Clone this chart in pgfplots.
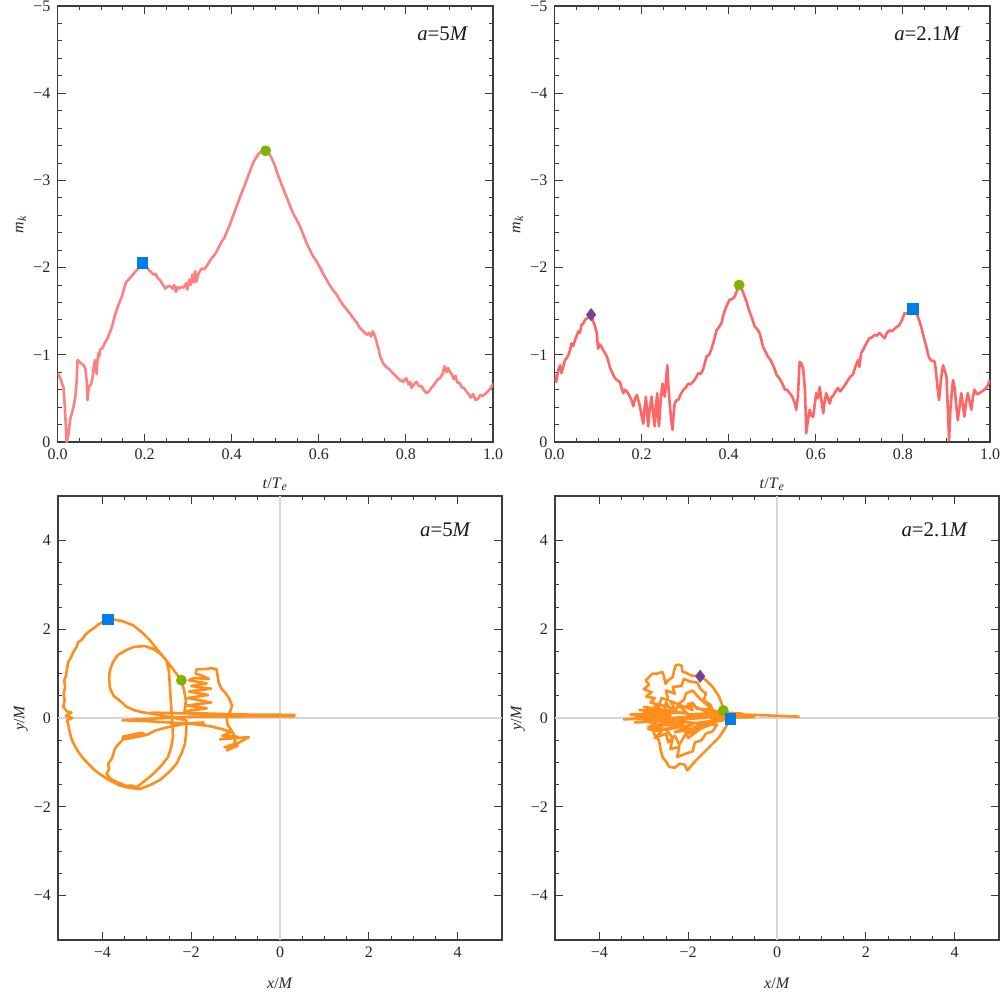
\documentclass[border=0pt]{standalone}
\usepackage{fontspec}
\setmainfont{Liberation Serif}
\usepackage{pgfplots}
\pgfplotsset{compat=1.18}

\definecolor{curveA}{RGB}{255,128,128}
\definecolor{curveB}{RGB}{255,102,102}
\definecolor{orbit}{RGB}{255,142,28}
\definecolor{mkblue}{RGB}{0,126,232}
\definecolor{mkgreen}{RGB}{128,180,0}
\definecolor{mkpurple}{RGB}{118,66,150}
\definecolor{frame}{RGB}{60,60,60}

\tikzset{note/.style={anchor=east, font=\fontsize{10.4}{12}\selectfont, text=black!90}}

\pgfplotsset{
  panel/.style={
    scale only axis, clip=true,
    axis line style={frame, line width=0.55pt},
    tick style={frame, line width=0.45pt},
    tick align=inside, tick pos=both,
    major tick length=4pt, minor tick length=2.2pt,
    ticklabel style={font=\fontsize{8}{9}\selectfont, text=black!85},
    every axis x label/.style={at={(axis description cs:0.5,-0.098)}, anchor=center,
      font=\fontsize{8}{9}\selectfont, text=black!85},
    every axis y label/.style={at={(axis description cs:-0.084,0.5)}, anchor=center, rotate=90,
      font=\fontsize{8}{9}\selectfont, text=black!85},
  },
  toppanel/.style={panel,
    width=217.75pt, height=218pt,
    xmin=0, xmax=1, ymin=-5, ymax=0, y dir=reverse,
    xtick={0,0.2,0.4,0.6,0.8,1}, xticklabels={0.0,0.2,0.4,0.6,0.8,1.0},
    minor x tick num=3,
    ytick={-5,-4,-3,-2,-1,0}, yticklabels={−5,−4,−3,−2,−1,0},
    minor y tick num=4,
    xlabel={\textit{t}/\textit{T}\textsubscript{\textit{e}}},
    ylabel={\textit{m}\textsubscript{\textit{k}}},
  },
  botpanel/.style={panel,
    width=222pt, height=222pt,
    xmin=-5, xmax=5, ymin=-5, ymax=5,
    xtick={-4,-2,0,2,4}, xticklabels={−4,−2,0,2,4},
    ytick={-4,-2,0,2,4}, yticklabels={−4,−2,0,2,4},
    minor x tick num=3, minor y tick num=3,
    extra x ticks={0}, extra y ticks={0},
    extra tick style={grid=major, major grid style={black!16, line width=0.8pt},
      major tick length=0pt, xticklabel={}, yticklabel={}},
    xlabel={\textit{x}/\textit{M}},
    ylabel={\textit{y}/\textit{M}},
  },
}

\begin{document}
\begin{tikzpicture}
\useasboundingbox (0,0) rectangle (500.5pt,496.5pt);

% ---- top left: a = 5M ----
\begin{axis}[toppanel, at={(28.75pt,275.5pt)}, anchor=south west]
\addplot[curveA, line width=1.3pt, line join=round] coordinates {
(0.000,-0.79)(0.006,-0.74)(0.010,-0.68)(0.014,-0.62)(0.018,-0.30)(0.021,0.00)(0.025,-0.08)(0.029,-0.26)(0.033,-0.33)(0.037,-0.41)(0.041,-0.52)(0.044,-0.70)(0.046,-0.94)(0.050,-0.92)(0.055,-0.90)(0.060,-0.88)(0.064,-0.84)(0.067,-0.70)(0.069,-0.48)(0.071,-0.60)(0.073,-0.64)(0.077,-0.66)(0.080,-0.72)(0.083,-0.85)(0.086,-0.94)(0.088,-0.82)(0.090,-0.78)(0.092,-0.95)(0.094,-1.02)(0.096,-0.98)(0.098,-1.06)(0.104,-1.08)(0.109,-1.14)(0.113,-1.17)(0.119,-1.24)(0.125,-1.32)(0.130,-1.42)(0.136,-1.52)(0.142,-1.60)(0.148,-1.67)(0.153,-1.76)(0.157,-1.83)(0.163,-1.86)(0.170,-1.90)(0.176,-1.94)(0.182,-1.97)(0.188,-2.00)(0.195,-2.05)(0.200,-2.03)(0.205,-2.01)(0.210,-1.97)(0.215,-1.95)(0.220,-1.92)(0.225,-1.93)(0.230,-1.88)(0.235,-1.86)(0.240,-1.82)(0.247,-1.76)(0.252,-1.78)(0.258,-1.79)(0.264,-1.76)(0.268,-1.80)(0.272,-1.72)(0.276,-1.78)(0.280,-1.76)(0.285,-1.78)(0.290,-1.77)(0.295,-1.82)(0.298,-1.75)(0.302,-1.86)(0.306,-1.80)(0.310,-1.92)(0.313,-1.83)(0.316,-1.96)(0.319,-1.84)(0.323,-1.92)(0.327,-1.96)(0.331,-1.99)(0.337,-1.98)(0.343,-2.02)(0.349,-2.07)(0.354,-2.11)(0.360,-2.14)(0.366,-2.19)(0.371,-2.24)(0.377,-2.30)(0.383,-2.34)(0.388,-2.40)(0.394,-2.47)(0.400,-2.55)(0.406,-2.63)(0.411,-2.70)(0.417,-2.78)(0.423,-2.86)(0.429,-2.93)(0.434,-3.00)(0.440,-3.08)(0.446,-3.16)(0.451,-3.22)(0.457,-3.27)(0.463,-3.31)(0.468,-3.33)(0.473,-3.34)(0.478,-3.34)(0.483,-3.32)(0.488,-3.29)(0.494,-3.23)(0.500,-3.16)(0.505,-3.08)(0.511,-3.00)(0.518,-2.91)(0.526,-2.81)(0.533,-2.72)(0.541,-2.62)(0.549,-2.55)(0.557,-2.47)(0.565,-2.37)(0.572,-2.28)(0.580,-2.20)(0.587,-2.13)(0.595,-2.07)(0.602,-2.01)(0.610,-1.93)(0.618,-1.86)(0.625,-1.80)(0.633,-1.74)(0.641,-1.69)(0.648,-1.63)(0.656,-1.57)(0.664,-1.52)(0.672,-1.47)(0.679,-1.42)(0.687,-1.37)(0.694,-1.31)(0.702,-1.27)(0.710,-1.23)(0.715,-1.25)(0.720,-1.21)(0.724,-1.27)(0.729,-1.21)(0.733,-1.14)(0.737,-1.07)(0.741,-0.98)(0.748,-0.90)(0.755,-0.86)(0.763,-0.83)(0.770,-0.79)(0.778,-0.75)(0.786,-0.71)(0.794,-0.69)(0.798,-0.72)(0.801,-0.73)(0.806,-0.66)(0.810,-0.69)(0.813,-0.62)(0.818,-0.66)(0.824,-0.69)(0.830,-0.64)(0.836,-0.64)(0.842,-0.59)(0.847,-0.56)(0.853,-0.58)(0.858,-0.62)(0.862,-0.64)(0.868,-0.68)(0.873,-0.72)(0.878,-0.73)(0.884,-0.78)(0.889,-0.87)(0.893,-0.80)(0.897,-0.85)(0.900,-0.81)(0.905,-0.78)(0.910,-0.72)(0.914,-0.76)(0.918,-0.68)(0.923,-0.68)(0.928,-0.63)(0.933,-0.62)(0.939,-0.58)(0.944,-0.55)(0.949,-0.51)(0.954,-0.55)(0.960,-0.48)(0.966,-0.50)(0.971,-0.54)(0.977,-0.53)(0.982,-0.55)(0.988,-0.58)(0.994,-0.61)(1.000,-0.67)};
\addplot[only marks, mark=square*, mark size=2.7pt, mkblue] coordinates {(0.195,-2.05)};
\addplot[only marks, mark=*, mark size=2.5pt, mkgreen] coordinates {(0.478,-3.34)};
\node[note] at (axis description cs:0.959,0.936) {\textit{a}=5\textit{M}};
\end{axis}

% ---- top right: a = 2.1M ----
\begin{axis}[toppanel, at={(277.25pt,275.5pt)}, anchor=south west]
\addplot[curveB, line width=1.3pt, line join=round] coordinates {
(0.000,-0.77)(0.004,-0.69)(0.009,-0.83)(0.013,-0.88)(0.016,-0.79)(0.020,-0.86)(0.024,-0.94)(0.028,-0.96)(0.032,-1.00)(0.036,-1.06)(0.039,-1.13)(0.043,-1.10)(0.047,-1.17)(0.051,-1.22)(0.055,-1.27)(0.058,-1.25)(0.062,-1.34)(0.066,-1.36)(0.070,-1.40)(0.075,-1.42)(0.080,-1.44)(0.084,-1.45)(0.087,-1.42)(0.089,-1.38)(0.093,-1.33)(0.097,-1.25)(0.100,-1.07)(0.104,-1.12)(0.108,-1.09)(0.112,-1.05)(0.116,-1.02)(0.120,-0.98)(0.123,-0.94)(0.127,-0.86)(0.131,-0.81)(0.135,-0.77)(0.139,-0.73)(0.144,-0.71)(0.150,-0.69)(0.154,-0.62)(0.158,-0.56)(0.162,-0.60)(0.166,-0.58)(0.170,-0.55)(0.173,-0.52)(0.177,-0.48)(0.181,-0.41)(0.185,-0.50)(0.189,-0.54)(0.193,-0.47)(0.196,-0.41)(0.200,-0.30)(0.204,-0.21)(0.207,-0.40)(0.210,-0.52)(0.213,-0.30)(0.215,-0.18)(0.219,-0.40)(0.223,-0.52)(0.227,-0.30)(0.230,-0.18)(0.233,-0.42)(0.236,-0.56)(0.238,-0.30)(0.240,-0.18)(0.244,-0.50)(0.248,-0.67)(0.251,-0.55)(0.253,-0.52)(0.256,-0.70)(0.259,-0.88)(0.262,-0.60)(0.265,-0.41)(0.268,-0.25)(0.271,-0.14)(0.274,-0.35)(0.276,-0.44)(0.280,-0.48)(0.284,-0.48)(0.290,-0.55)(0.296,-0.60)(0.301,-0.62)(0.307,-0.67)(0.312,-0.66)(0.318,-0.69)(0.324,-0.73)(0.330,-0.79)(0.336,-0.78)(0.341,-0.83)(0.345,-0.90)(0.349,-0.98)(0.355,-1.00)(0.360,-1.06)(0.366,-1.16)(0.372,-1.28)(0.378,-1.32)(0.383,-1.36)(0.387,-1.44)(0.391,-1.51)(0.397,-1.58)(0.402,-1.63)(0.408,-1.64)(0.414,-1.67)(0.419,-1.74)(0.424,-1.78)(0.429,-1.76)(0.433,-1.72)(0.437,-1.66)(0.441,-1.61)(0.446,-1.52)(0.452,-1.44)(0.456,-1.38)(0.460,-1.32)(0.465,-1.30)(0.471,-1.25)(0.475,-1.17)(0.479,-1.09)(0.484,-1.04)(0.490,-0.98)(0.496,-0.94)(0.502,-0.88)(0.506,-0.83)(0.510,-0.77)(0.515,-0.74)(0.521,-0.69)(0.525,-0.65)(0.529,-0.60)(0.534,-0.60)(0.540,-0.56)(0.546,-0.52)(0.552,-0.44)(0.555,-0.37)(0.559,-0.52)(0.561,-0.75)(0.563,-0.92)(0.567,-0.90)(0.571,-0.84)(0.573,-0.72)(0.575,-0.60)(0.577,-0.30)(0.578,-0.10)(0.582,-0.25)(0.586,-0.37)(0.590,-0.30)(0.594,-0.29)(0.598,-0.45)(0.601,-0.56)(0.605,-0.50)(0.609,-0.63)(0.613,-0.48)(0.617,-0.33)(0.620,-0.45)(0.624,-0.56)(0.628,-0.50)(0.632,-0.44)(0.636,-0.52)(0.639,-0.52)(0.645,-0.58)(0.651,-0.62)(0.656,-0.58)(0.662,-0.62)(0.668,-0.66)(0.674,-0.71)(0.679,-0.75)(0.685,-0.77)(0.690,-0.85)(0.697,-0.94)(0.700,-0.86)(0.704,-1.02)(0.708,-1.05)(0.712,-1.09)(0.718,-1.15)(0.723,-1.19)(0.729,-1.20)(0.735,-1.23)(0.740,-1.22)(0.746,-1.25)(0.752,-1.22)(0.758,-1.19)(0.763,-1.25)(0.769,-1.28)(0.775,-1.27)(0.781,-1.30)(0.786,-1.32)(0.792,-1.34)(0.798,-1.40)(0.804,-1.48)(0.810,-1.47)(0.815,-1.49)(0.820,-1.52)(0.823,-1.53)(0.827,-1.51)(0.831,-1.48)(0.837,-1.40)(0.842,-1.32)(0.848,-1.20)(0.854,-1.09)(0.858,-1.00)(0.861,-0.96)(0.866,-0.93)(0.870,-0.93)(0.873,-0.92)(0.875,-0.85)(0.877,-0.75)(0.880,-0.60)(0.883,-0.48)(0.887,-0.70)(0.892,-0.88)(0.896,-0.82)(0.900,-0.75)(0.903,-0.40)(0.906,-0.02)(0.909,-0.37)(0.912,-0.55)(0.915,-0.71)(0.919,-0.62)(0.922,-0.44)(0.926,-0.25)(0.930,-0.40)(0.934,-0.56)(0.937,-0.45)(0.941,-0.29)(0.945,-0.45)(0.949,-0.56)(0.953,-0.47)(0.957,-0.37)(0.961,-0.52)(0.964,-0.60)(0.970,-0.55)(0.976,-0.56)(0.981,-0.58)(0.987,-0.60)(0.993,-0.63)(1.000,-0.71)};
\addplot[only marks, mark=diamond*, mark size=3pt, mkpurple] coordinates {(0.084,-1.46)};
\addplot[only marks, mark=*, mark size=2.5pt, mkgreen] coordinates {(0.424,-1.80)};
\addplot[only marks, mark=square*, mark size=2.7pt, mkblue] coordinates {(0.823,-1.53)};
\node[note] at (axis description cs:0.949,0.936) {\textit{a}=2.1\textit{M}};
\end{axis}

% ---- bottom left: orbit a = 5M ----
\begin{axis}[botpanel, at={(29pt,26.5pt)}, anchor=south west]
\addplot[orbit, line width=1.3pt, line join=round] coordinates {
(0.35,0.07)(-1.0,0.08)(-2.9,0.12)(-1.6,0.10)(0.32,0.04)(-2.0,0.03)(-3.55,-0.05)(-3.0,-0.07)(-2.5,-0.10)(-2.0,-0.13)(-1.6,-0.18)(-1.3,-0.25)(-1.1,-0.32)(-1.3,-0.40)(-0.95,-0.42)(-1.35,-0.48)(-0.70,-0.43)(-0.92,-0.55)(-1.25,-0.66)(-0.95,-0.62)(-1.20,-0.73)(-1.05,-0.66)(-1.0,-0.45)(-1.08,-0.30)(-1.18,-0.15)(-1.20,0.0)(-1.12,0.15)(-1.08,0.28)(-1.15,0.45)(-1.22,0.55)(-1.33,0.68)(-1.38,0.80)(-1.40,0.92)(-1.43,1.10)(-1.55,1.12)(-1.70,1.10)(-1.88,1.10)(-1.90,1.00)(-1.75,0.95)(-1.60,0.88)(-1.95,0.90)(-2.05,0.85)(-1.65,0.78)(-2.00,0.72)(-1.55,0.66)(-2.05,0.60)(-1.62,0.52)(-2.08,0.45)(-1.55,0.35)(-2.10,0.28)(-1.65,0.22)(-2.15,0.15)(-2.12,0.40)(-2.16,0.62)(-2.22,0.85)(-2.35,1.02)(-2.50,1.22)(-2.63,1.38)(-2.78,1.56)(-2.93,1.75)(-3.12,1.94)(-3.31,2.09)(-3.55,2.18)(-3.75,2.22)(-3.87,2.22)(-4.00,2.16)(-4.10,2.10)(-4.20,2.02)(-4.30,1.95)(-4.38,1.88)(-4.45,1.78)(-4.55,1.70)(-4.58,1.60)(-4.65,1.50)(-4.70,1.38)(-4.77,1.26)(-4.80,1.10)(-4.82,0.95)(-4.86,0.85)(-4.84,0.70)(-4.87,0.55)(-4.85,0.40)(-4.88,0.25)(-4.80,0.15)(-4.70,0.12)(-4.82,0.05)(-4.68,0.0)(-4.80,-0.05)(-4.77,-0.15)(-4.74,-0.30)(-4.70,-0.45)(-4.66,-0.55)(-4.58,-0.70)(-4.50,-0.82)(-4.44,-0.90)(-4.30,-1.05)(-4.18,-1.17)(-4.06,-1.26)(-3.85,-1.40)(-3.61,-1.52)(-3.40,-1.57)(-3.16,-1.60)(-2.95,-1.52)(-2.71,-1.40)(-2.50,-1.22)(-2.33,-1.03)(-2.22,-0.80)(-2.14,-0.58)(-2.11,-0.30)(-2.11,-0.05)(-2.9,0.10)(-3.1,0.13)(-3.3,0.18)(-3.45,0.25)(-3.6,0.38)(-3.75,0.50)(-3.83,0.68)(-3.85,0.90)(-3.83,1.08)(-3.75,1.28)(-3.65,1.42)(-3.48,1.52)(-3.30,1.60)(-3.05,1.62)(-2.86,1.56)(-2.70,1.45)(-2.56,1.30)(-2.50,1.05)(-2.48,0.70)(-2.46,0.40)(-2.44,0.10)(-2.42,-0.20)(-2.41,-0.43)(-2.45,-0.65)(-2.52,-0.88)(-2.68,-1.08)(-2.86,-1.26)(-3.05,-1.42)(-3.23,-1.56)(-3.35,-1.52)(-3.46,-1.53)(-3.58,-1.48)(-3.68,-1.44)(-3.80,-1.38)(-3.91,-1.26)(-3.85,-1.15)(-3.87,-1.03)(-3.78,-0.90)(-3.72,-0.70)(-3.65,-0.60)(-3.55,-0.50)(-3.53,-0.42)(-3.35,-0.38)(-3.10,-0.33)(-3.40,-0.44)(-3.05,-0.36)(-3.50,-0.48)(-3.0,-0.38)(-2.8,-0.28)(-2.5,-0.20)(-2.1,-0.12)(-1.7,-0.10)};
\addplot[only marks, mark=square*, mark size=2.7pt, mkblue] coordinates {(-3.87,2.22)};
\addplot[only marks, mark=*, mark size=2.5pt, mkgreen] coordinates {(-2.22,0.85)};
\node[note] at (axis description cs:0.946,0.923) {\textit{a}=5\textit{M}};
\end{axis}

% ---- bottom right: orbit a = 2.1M ----
\begin{axis}[botpanel, at={(277.5pt,26.5pt)}, anchor=south west]
\addplot[orbit, line width=1.3pt, line join=round] coordinates {
(0.51,0.03)(-0.8,0.08)(-1.4,0.12)(-0.75,0.05)(-3.45,-0.03)(-2.4,0.05)(-3.3,0.08)(-2.2,0.12)(-3.1,0.18)(-2.0,0.10)(-3.0,0.25)(-2.6,0.15)(-2.7,0.32)(-2.3,0.20)(-2.4,0.38)(-1.9,0.18)(-2.0,0.32)(-1.6,0.15)(-0.8,0.10)(-1.7,0.00)(-3.2,-0.10)(-2.2,-0.05)(-2.9,-0.20)(-2.1,-0.12)(-2.6,-0.28)(-1.9,-0.15)(-2.3,-0.32)(-1.7,-0.20)(-2.0,-0.35)(-1.5,-0.15)(-3.1,0.02)(-3.2,0.06)(-2.9,0.08)(-3.0,0.15)(-2.7,0.10)(-2.75,0.28)(-2.55,0.12)(-2.5,0.35)(-2.35,0.12)(-2.2,0.28)(-2.0,0.08)(-1.6,0.10)(-1.1,0.12)(-1.6,0.05)(-2.4,0.0)(-3.0,-0.05)(-2.7,-0.15)(-2.9,-0.25)(-2.6,-0.30)(-2.75,-0.45)(-2.5,-0.35)(-2.45,-0.55)(-2.3,-0.40)(-2.2,-0.60)(-2.05,-0.35)(-1.85,-0.20)(-1.5,-0.10)(-1.2,-0.05)(-1.22,0.25)(-1.30,0.47)(-1.38,0.60)(-1.45,0.70)(-1.55,0.80)(-1.62,0.87)(-1.73,0.94)(-1.85,0.95)(-1.94,0.96)(-2.05,1.02)(-2.13,1.04)(-2.15,1.18)(-2.22,1.20)(-2.28,1.19)(-2.32,1.05)(-2.35,0.92)(-2.45,0.85)(-2.51,0.77)(-2.55,0.95)(-2.58,1.04)(-2.70,1.00)(-2.81,1.00)(-2.90,0.90)(-2.96,0.85)(-2.88,0.75)(-3.00,0.65)(-2.82,0.58)(-2.95,0.48)(-2.75,0.45)(-2.85,0.35)(-2.65,0.30)(-2.60,0.45)(-2.45,0.40)(-2.50,0.62)(-2.30,0.55)(-2.35,0.70)(-2.15,0.72)(-2.10,0.88)(-1.95,0.82)(-1.80,0.80)(-1.72,0.65)(-1.60,0.55)(-1.65,0.40)(-1.50,0.30)(-1.45,0.18)(-1.75,0.45)(-1.90,0.62)(-2.05,0.55)(-2.10,0.40)(-2.25,0.30)(-2.05,0.25)(-1.90,0.35)(-1.80,0.20)(-1.55,0.20)(-1.35,0.15)(-1.21,0.17)(-1.10,0.08)(-1.05,-0.02)(-1.15,-0.20)(-1.25,-0.35)(-1.30,-0.43)(-1.42,-0.55)(-1.52,-0.65)(-1.62,-0.75)(-1.75,-0.88)(-1.85,-0.98)(-1.95,-1.10)(-2.02,-1.18)(-2.08,-1.05)(-2.20,-1.03)(-2.30,-1.12)(-2.43,-1.10)(-2.50,-0.98)(-2.58,-0.88)(-2.62,-0.72)(-2.66,-0.50)(-2.75,-0.40)(-2.81,-0.20)(-2.50,-0.25)(-2.35,-0.45)(-2.40,-0.70)(-2.20,-0.65)(-2.25,-0.88)(-2.05,-0.80)(-1.90,-0.75)(-1.85,-0.55)(-1.70,-0.50)(-1.60,-0.35)(-1.45,-0.30)(-1.35,-0.15)(-1.60,-0.15)(-1.80,-0.30)(-2.00,-0.45)(-2.10,-0.25)(-1.90,-0.12)(-1.30,-0.05)(-1.50,0.00)(-0.50,0.02)};
\addplot[only marks, mark=diamond*, mark size=3pt, mkpurple] coordinates {(-1.73,0.94)};
\addplot[only marks, mark=*, mark size=2.5pt, mkgreen] coordinates {(-1.21,0.17)};
\addplot[only marks, mark=square*, mark size=2.7pt, mkblue] coordinates {(-1.05,-0.02)};
\node[note] at (axis description cs:0.946,0.923) {\textit{a}=2.1\textit{M}};
\end{axis}
\end{tikzpicture}
\end{document}
